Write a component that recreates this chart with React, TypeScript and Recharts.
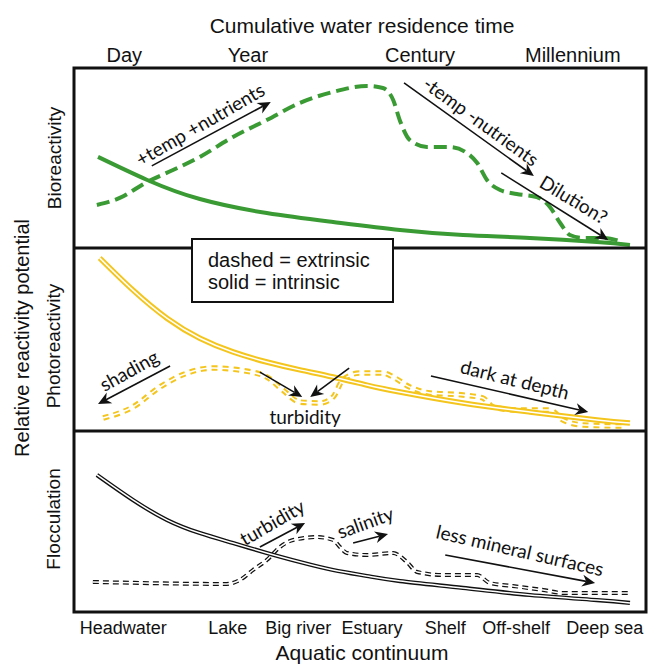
import { LineChart, Line, XAxis, YAxis, ReferenceLine, ReferenceDot } from 'recharts';

// x runs 0..100 along the aquatic continuum, each panel y runs 0..100
const TOP_TICKS = ['Day', 'Year', 'Century', 'Millennium'];
const TOP_TICK_AT = [8.8, 30.4, 60.5, 87.2];
const SITES = ['Headwater', 'Lake', 'Big river', 'Estuary', 'Shelf', 'Off-shelf', 'Deep sea'];
const SITE_AT = [8.6, 26.9, 39.2, 52.1, 64.9, 77.3, 92.8];

const BIO_INTRINSIC = [
  [4.2, 50.6], [12.8, 37.8], [22.0, 27.2], [33.7, 19.4], [45.3, 14.4], [57.0, 10.0],
  [68.0, 7.2], [79.7, 5.6], [91.4, 3.3], [97.2, 1.7],
];
const BIO_EXTRINSIC = [
  [4.0, 23.9], [8.0, 27.8], [12.8, 36.7], [17.3, 43.3], [22.0, 50.6], [27.8, 61.7],
  [33.7, 71.1], [39.5, 80.6], [45.3, 86.7], [51.2, 90.0], [54.0, 88.9], [55.8, 82.2],
  [57.0, 70.6], [58.7, 60.0], [61.7, 56.1], [65.7, 56.1], [68.7, 52.8], [70.5, 47.2],
  [72.2, 37.8], [74.5, 32.2], [77.4, 30.0], [80.9, 28.3], [83.2, 22.8], [85.0, 13.9],
  [86.7, 7.2], [89.0, 5.6], [92.5, 5.6], [96.0, 3.3],
];
const PHOTO_INTRINSIC = [
  [4.5, 94.5], [10.3, 77.0], [16.3, 61.5], [22.0, 50.7], [27.8, 43.2], [33.7, 37.7],
  [39.5, 33.4], [45.3, 29.5], [51.2, 25.1], [57.0, 21.3], [68.0, 15.3], [79.7, 10.4],
  [91.4, 6.0], [97.2, 4.4],
];
const PHOTO_EXTRINSIC = [
  [5.1, 7.1], [10.3, 13.1], [15.0, 24.0], [19.8, 31.7], [24.3, 34.4], [29.0, 33.3],
  [33.7, 29.5], [36.5, 22.4], [39.5, 15.8], [43.0, 15.3], [45.3, 18.6], [47.0, 27.9],
  [50.0, 31.7], [54.0, 31.7], [55.8, 29.5], [58.7, 24.0], [62.2, 20.8], [68.0, 19.7],
  [71.5, 18.0], [73.3, 13.1], [77.4, 11.5], [83.2, 11.5], [85.5, 6.0], [89.0, 3.3],
  [96.0, 2.7],
];
const FLOC_INTRINSIC = [
  [4.0, 75.7], [10.3, 61.9], [16.3, 50.8], [22.0, 43.6], [27.8, 38.1], [33.7, 32.6],
  [39.5, 27.6], [45.3, 23.2], [51.2, 19.9], [57.0, 17.1], [68.0, 13.3], [79.7, 9.4],
  [91.4, 6.6], [97.2, 5.0],
];
const FLOC_EXTRINSIC = [
  [3.3, 16.6], [26.7, 15.5], [29.0, 17.7], [31.3, 23.2], [33.7, 28.7], [36.0, 35.9],
  [38.3, 39.8], [42.5, 41.4], [45.3, 39.8], [46.5, 35.9], [47.7, 32.6], [51.2, 31.5],
  [55.8, 32.6], [58.2, 27.6], [60.0, 22.1], [64.5, 20.4], [70.5, 20.4], [72.7, 16.0],
  [76.7, 14.4], [82.0, 12.2], [85.5, 10.5], [97.2, 10.5],
];

// annotations: arrows [x1, y1, x2, y2], notes [x, y, angle, text]
const BIO_ARROWS = [[13.6, 45.6, 34.4, 81.1], [57.7, 91.7, 80.4, 40.0], [74.7, 41.7, 93.4, 4.4]];
const BIO_NOTES = [[22.0, 68.9, -30, '+temp +nutrients'], [71.2, 70.6, 36, '-temp -nutrients'], [87.4, 27.2, 31, 'Dilution?']];
const PHOTO_ARROWS = [[16.8, 35.5, 4.2, 14.8], [32.5, 32.2, 39.9, 18.6], [48.1, 34.4, 41.3, 18.6], [62.4, 30.1, 89.9, 10.4]];
const PHOTO_NOTES = [[9.6, 33.3, -29, 'shading'], [40.4, 7.7, 0, 'turbidity'], [77.1, 28.4, 14, 'dark at depth']];
const FLOC_ARROWS = [[32.5, 35.9, 40.4, 49.2], [48.8, 38.1, 54.9, 43.1], [64.9, 31.5, 91.1, 16.0]];
const FLOC_NOTES = [[34.6, 49.7, -30, 'turbidity'], [50.9, 49.7, -20, 'salinity'], [78.0, 34.3, 13, 'less mineral surfaces']];

const GREEN = '#3a9a33';
const YELLOW = '#f4c51c';
const SANS = '"Liberation Sans", Arial, sans-serif';
const NOTE_FONT = 'Lato, "Open Sans", sans-serif';

const pts = (arr: number[][]) => arr.map(([x, y]) => ({ x, y }));

const ArrowShape = (p: any) => {
  const { x1, y1, x2, y2 } = p;
  const len = Math.hypot(x2 - x1, y2 - y1) || 1;
  const ux = (x2 - x1) / len, uy = (y2 - y1) / len;
  const px = -uy, py = ux;
  const L = 13, W = 6, N = 9;
  const bx = x2 - L * ux, by = y2 - L * uy;
  const nx = x2 - N * ux, ny = y2 - N * uy;
  return (
    <g>
      <line x1={x1} y1={y1} x2={nx} y2={ny} stroke="#111" strokeWidth={1.6} />
      <polygon
        points={`${x2},${y2} ${bx + W * px},${by + W * py} ${nx},${ny} ${bx - W * px},${by - W * py}`}
        fill="#111"
      />
    </g>
  );
};

const noteShape = (angle: number, text: string) => (p: any) => (
  <text
    x={p.cx}
    y={p.cy}
    transform={`rotate(${angle} ${p.cx} ${p.cy})`}
    textAnchor="middle"
    dominantBaseline="central"
    fontFamily={NOTE_FONT}
    fontSize={19}
    fill="#111"
  >
    {text}
  </text>
);

const TopTick = ({ x, y, payload }: any) => (
  <text x={x} y={y - 6} textAnchor="middle" fontFamily={SANS} fontSize={20} fill="#111">
    {TOP_TICKS[TOP_TICK_AT.indexOf(payload.value)]}
  </text>
);

const BottomTick = ({ x, y, payload }: any) => (
  <text x={x} y={y + 22} textAnchor="middle" fontFamily={SANS} fontSize={18} fill="#111">
    {SITES[SITE_AT.indexOf(payload.value)]}
  </text>
);

function annotations(arrows: number[][], notes: any[][], tag: string) {
  return [
    ...arrows.map((a, i) => (
      <ReferenceLine
        key={`${tag}a${i}`}
        segment={[{ x: a[0], y: a[1] }, { x: a[2], y: a[3] }]}
        ifOverflow="visible"
        shape={ArrowShape}
      />
    )),
    ...notes.map((n, i) => (
      <ReferenceDot key={`${tag}n${i}`} x={n[0]} y={n[1]} r={0} ifOverflow="visible" shape={noteShape(n[2], n[3])} />
    )),
  ];
}

function doubleLine(data: number[][], color: string, width: number, curve: any, dash?: string) {
  return [
    <Line key={`o${color}${dash}`} data={pts(data)} dataKey="y" type={curve} stroke={color} strokeWidth={width}
      strokeDasharray={dash} dot={false} activeDot={false} isAnimationActive={false} />,
    <Line key={`i${color}${dash}`} data={pts(data)} dataKey="y" type={curve} stroke="#fff" strokeWidth={1.5}
      dot={false} activeDot={false} isAnimationActive={false} />,
  ];
}

const MARGIN_X = { left: 74, right: 5 };

export default function App() {
  return (
    <div style={{ position: 'absolute', left: 0, top: 0, width: 651, height: 667, background: '#fff' }}>
      <div style={{ position: 'absolute', left: 0, top: 0 }}>
        <LineChart width={651} height={248} margin={{ top: 0, bottom: 0, ...MARGIN_X }}>
          <XAxis dataKey="x" type="number" domain={[0, 100]} orientation="top" height={68}
            ticks={TOP_TICK_AT} interval={0} tick={<TopTick />} tickLine={false} axisLine={false}
            tickSize={0} tickMargin={0} />
          <YAxis type="number" domain={[0, 100]} hide />
          <Line data={pts(BIO_INTRINSIC)} dataKey="y" type="natural" stroke={GREEN} strokeWidth={4}
            dot={false} activeDot={false} isAnimationActive={false} />
          <Line data={pts(BIO_EXTRINSIC)} dataKey="y" type="monotone" stroke={GREEN} strokeWidth={4}
            strokeDasharray="13 6" dot={false} activeDot={false} isAnimationActive={false} />
          {annotations(BIO_ARROWS, BIO_NOTES, 'b')}
        </LineChart>
      </div>
      <div style={{ position: 'absolute', left: 0, top: 248 }}>
        <LineChart width={651} height={183} margin={{ top: 0, bottom: 0, ...MARGIN_X }}>
          <XAxis dataKey="x" type="number" domain={[0, 100]} hide />
          <YAxis type="number" domain={[0, 100]} hide />
          {doubleLine(PHOTO_EXTRINSIC, YELLOW, 5.5, 'monotone', '6 5')}
          {doubleLine(PHOTO_INTRINSIC, YELLOW, 5.5, 'natural')}
          {annotations(PHOTO_ARROWS, PHOTO_NOTES, 'p')}
        </LineChart>
      </div>
      <div style={{ position: 'absolute', left: 0, top: 431 }}>
        <LineChart width={651} height={236} margin={{ top: 0, bottom: 0, ...MARGIN_X }}>
          <XAxis dataKey="x" type="number" domain={[0, 100]} height={55}
            ticks={SITE_AT} interval={0} tick={<BottomTick />} tickLine={false} axisLine={false}
            tickSize={0} tickMargin={0} />
          <YAxis type="number" domain={[0, 100]} hide />
          {doubleLine(FLOC_EXTRINSIC, '#111', 4, 'monotone', '6 4')}
          {doubleLine(FLOC_INTRINSIC, '#111', 4.2, 'natural')}
          {annotations(FLOC_ARROWS, FLOC_NOTES, 'f')}
        </LineChart>
      </div>
      <svg width={651} height={667} style={{ position: 'absolute', left: 0, top: 0, pointerEvents: 'none' }}>
        <rect x={74} y={68} width={572} height={544} fill="none" stroke="#111" strokeWidth={3} />
        <line x1={74} y1={248} x2={646} y2={248} stroke="#111" strokeWidth={3} />
        <line x1={74} y1={431} x2={646} y2={431} stroke="#111" strokeWidth={3} />
        <rect x={192} y={239} width={201} height={63} fill="#fff" stroke="#111" strokeWidth={2} />
        <g fontFamily={SANS} fill="#111">
          <text x={208} y={267} fontSize={20}>dashed = extrinsic</text>
          <text x={208} y={289} fontSize={20}>solid = intrinsic</text>
          <text x={362} y={33} fontSize={21} textAnchor="middle">Cumulative water residence time</text>
          <text x={362} y={660} fontSize={21} textAnchor="middle">Aquatic continuum</text>
          <text transform="translate(54,158) rotate(-90)" fontSize={19} textAnchor="middle" dominantBaseline="central">Bioreactivity</text>
          <text transform="translate(53,346) rotate(-90)" fontSize={19} textAnchor="middle" dominantBaseline="central">Photoreactivity</text>
          <text transform="translate(53,519) rotate(-90)" fontSize={19} textAnchor="middle" dominantBaseline="central">Flocculation</text>
          <text transform="translate(22,338) rotate(-90)" fontSize={20} textAnchor="middle" dominantBaseline="central">Relative reactivity potential</text>
        </g>
      </svg>
    </div>
  );
}
